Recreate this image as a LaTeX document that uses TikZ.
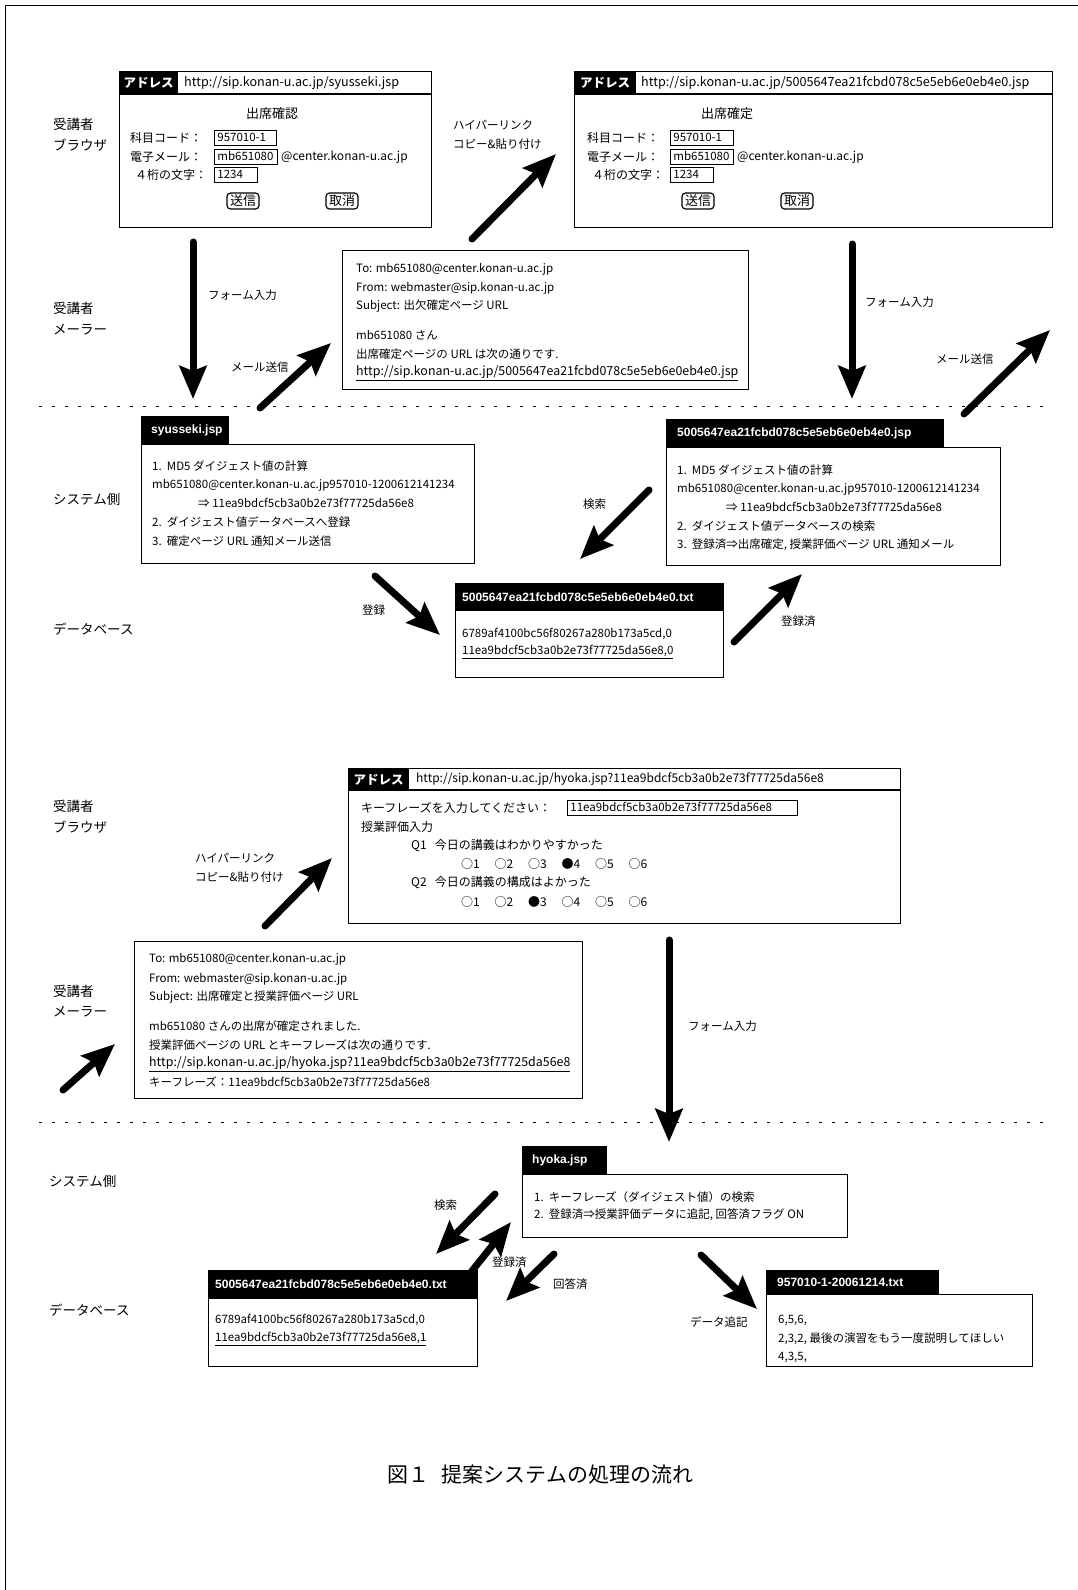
\documentclass[tikz,border=0pt]{standalone}
\usepackage{fontspec}
\setmainfont{Noto Sans CJK JP}
\newfontfamily\tabfont{Liberation Sans}
\usetikzlibrary{arrows.meta}
\tikzset{
  frame/.style={draw, line width=1.3pt, inner sep=0, anchor=north west},
  blk/.style={fill=black, draw=black, line width=1.3pt, inner sep=0, anchor=north west},
  side/.style={anchor=west, inner sep=0, font=\fontsize{13.5}{14}\selectfont},
  t/.style={anchor=west, inner sep=0, font=\fontsize{11.5}{12}\selectfont},
  url/.style={anchor=west, inner sep=0, font=\fontsize{12.4}{12}\selectfont},
  bt/.style={anchor=west, inner sep=0, font=\fontsize{12}{12}\selectfont},
  but/.style={anchor=west, inner sep=0, font=\fontsize{12.6}{12}\selectfont},
  ttl/.style={inner sep=0, font=\fontsize{13}{13}\selectfont},
  tabtxt/.style={anchor=west, inner sep=0, text=white, font=\tabfont\bfseries\fontsize{12}{12}\selectfont},
  adr/.style={anchor=center, inner sep=0, text=white, font=\bfseries\fontsize{12.5}{12}\selectfont},
  inbox/.style={draw, line width=0.8pt, anchor=west, inner xsep=3pt, inner ysep=1.5pt, text height=9.5pt, text depth=2.5pt, font=\fontsize{11.5}{12}\selectfont, align=left},
  btn/.style={draw, line width=1.2pt, rounded corners=3.5pt, inner xsep=3pt, inner ysep=2pt, font=\fontsize{13}{13}\selectfont},
  fat/.style={line width=7pt, line cap=round, -{Stealth[length=33pt,width=27pt,inset=5pt]}},
  sepline/.style={line width=1pt, dash pattern=on 3pt off 10pt},
}
\begin{document}
\begin{tikzpicture}[x=1pt,y=-1pt]
\useasboundingbox (0,0) rectangle (1078,1590);
\draw[line width=1pt] (5,1590) -- (5,5) -- (1078,5);

% ---------- side labels ----------
\node[side] (l1a) at (53,124) {受講者};
\node[side] (l1b) at (53,145) {ブラウザ};
\node[side] (l2a) at (53,308) {受講者};
\node[side] (l2b) at (53,330) {メーラー};
\node[side] (l3) at (53,499) {システム側};
\node[side] (l4) at (53,629) {データベース};
\node[side] (l5a) at (53,806) {受講者};
\node[side] (l5b) at (53,827) {ブラウザ};
\node[side] (l6a) at (53,991) {受講者};
\node[side] (l6b) at (53,1012) {メーラー};
\node[side] (l7) at (49,1181) {システム側};
\node[side] (l8) at (49,1310) {データベース};

% separators
\coordinate (s1a) at (39,406); \coordinate (s1b) at (1045,406);
\coordinate (s2a) at (39,1122); \coordinate (s2b) at (1045,1122);
\draw[sepline] (s1a) -- (s1b);
\draw[sepline] (s2a) -- (s2b);

% ---------- browser 1 ----------
\node[frame, minimum width=312, minimum height=156] (b1) at (119,71) {};
\draw[line width=1.3pt] (119,94) -- (431,94);
\node[blk, minimum width=58, minimum height=23] (b1a) at (119,71) {};
\node[adr] (b1at) at (b1a.center) {アドレス};
\node[but] (b1u) at (184,83) {http://sip.konan-u.ac.jp/syusseki.jsp};
\node[ttl] (b1t) at (272,114) {出席確認};
\node[bt] (b1r1) at (130,138) {科目コード：};
\node[bt] (b1r2) at (130,157) {電子メール：};
\node[bt] (b1r3) at (135,175) {４桁の文字：};
\node[inbox, text width=56] (b1i1) at (214,138) {957010-1};
\node[inbox, text width=57] (b1i2) at (214,157) {mb651080};
\node[bt] (b1d) at (281,157) {@center.konan-u.ac.jp};
\node[inbox, text width=37] (b1i3) at (214,175) {1234};
\node[btn] (b1s) at (243,201) {送信};
\node[btn] (b1c) at (342,201) {取消};

% ---------- browser 2 ----------
\node[frame, minimum width=478, minimum height=156] (b2) at (574,71) {};
\draw[line width=1.3pt] (574,94) -- (1052,94);
\node[blk, minimum width=61, minimum height=23] (b2a) at (574,71) {};
\node[adr] (b2at) at (b2a.center) {アドレス};
\node[but] (b2u) at (641,83) {http://sip.konan-u.ac.jp/5005647ea21fcbd078c5e5eb6e0eb4e0.jsp};
\node[ttl] (b2t) at (727,114) {出席確定};
\node[bt] (b2r1) at (587,138) {科目コード：};
\node[bt] (b2r2) at (587,157) {電子メール：};
\node[bt] (b2r3) at (592,175) {４桁の文字：};
\node[inbox, text width=57] (b2i1) at (670,138) {957010-1};
\node[inbox, text width=57] (b2i2) at (670,157) {mb651080};
\node[bt] (b2d) at (737,157) {@center.konan-u.ac.jp};
\node[inbox, text width=37] (b2i3) at (670,175) {1234};
\node[btn] (b2s) at (698,201) {送信};
\node[btn] (b2c) at (797,201) {取消};

% hyperlink label + arrow
\node[t] (hl1) at (453,125) {ハイパーリンク};
\node[t] (hl2) at (453,144) {コピー\&貼り付け};
\coordinate (h1s) at (472,239); \coordinate (h1e) at (556,154);
\draw[fat] (h1s) -- (h1e);

% form input arrow 1
\coordinate (f1s) at (193,242); \coordinate (f1e) at (193,399);
\draw[fat] (f1s) -- (f1e);
\node[t] (f1l) at (208,295) {フォーム入力};
% mail send 1
\coordinate (m1s) at (260,408); \coordinate (m1e) at (331,343);
\draw[fat] (m1s) -- (m1e);
\node[t] (m1l) at (231,367) {メール送信};

% ---------- mail 1 ----------
\node[frame, minimum width=406, minimum height=139] (mail1) at (342,250) {};
\node[t] (ma1) at (356,269) {To: mb651080@center.konan-u.ac.jp};
\node[t] (ma2) at (356,288) {From: webmaster@sip.konan-u.ac.jp};
\node[t] (ma3) at (356,306) {Subject: 出欠確定ページ URL};
\node[t] (ma4) at (356,335) {mb651080 さん};
\node[t] (ma5) at (356,354) {出席確定ページの URL は次の通りです.};
\node[url] (ma6) at (356,373) {\underline{http://sip.konan-u.ac.jp/5005647ea21fcbd078c5e5eb6e0eb4e0.jsp}};

% form input arrow 2
\coordinate (f2s) at (852,244); \coordinate (f2e) at (852,399);
\draw[fat] (f2s) -- (f2e);
\node[t] (f2l) at (865,302) {フォーム入力};
% mail send 2
\coordinate (m2s) at (964,414); \coordinate (m2e) at (1050,330);
\draw[fat] (m2s) -- (m2e);
\node[t] (m2l) at (936,359) {メール送信};

% ---------- syusseki.jsp ----------
\node[frame, minimum width=333, minimum height=119] (sy) at (141,444) {};
\node[blk, minimum width=87, minimum height=28] (syt) at (141,416) {};
\node[tabtxt] (sytt) at (151,430) {syusseki.jsp};
\node[t] (sy1) at (152,466) {1.\ \ MD5 ダイジェスト値の計算};
\node[t] (sy2) at (152,485) {mb651080@center.konan-u.ac.jp957010-1200612141234};
\node[t] (sy3) at (198,503) {⇒ 11ea9bdcf5cb3a0b2e73f77725da56e8};
\node[t] (sy4) at (152,522) {2.\ \ ダイジェスト値データベースへ登録};
\node[t] (sy5) at (152,541) {3.\ \ 確定ページ URL 通知メール送信};

% ---------- 5005...jsp ----------
\node[frame, minimum width=334, minimum height=118] (js) at (666,447) {};
\node[blk, minimum width=277, minimum height=28] (jst) at (666,419) {};
\node[tabtxt] (jstt) at (677,433) {5005647ea21fcbd078c5e5eb6e0eb4e0.jsp};
\node[t] (js1) at (677,470) {1.\ \ MD5 ダイジェスト値の計算};
\node[t] (js2) at (677,489) {mb651080@center.konan-u.ac.jp957010-1200612141234};
\node[t] (js3) at (726,507) {⇒ 11ea9bdcf5cb3a0b2e73f77725da56e8};
\node[t] (js4) at (677,526) {2.\ \ ダイジェスト値データベースの検索};
\node[t] (js5) at (677,545) {3.\ \ 登録済⇒出席確定, 授業評価ページ URL 通知メール};

% arrows around DB1
\coordinate (k1s) at (649,490); \coordinate (k1e) at (580,559);
\draw[fat] (k1s) -- (k1e);
\node[t] (k1l) at (583,504) {検索};
\coordinate (r1s) at (375,576); \coordinate (r1e) at (440,635);
\draw[fat] (r1s) -- (r1e);
\node[t] (r1l) at (362,610) {登録};
\coordinate (d1s) at (734,642); \coordinate (d1e) at (802,574);
\draw[fat] (d1s) -- (d1e);
\node[t] (d1l) at (781,621) {登録済};

% ---------- DB1 ----------
\node[frame, minimum width=268, minimum height=94] (db1) at (455,583) {};
\node[blk, minimum width=268, minimum height=27] (db1t) at (455,583) {};
\node[tabtxt] (db1tt) at (462,597) {5005647ea21fcbd078c5e5eb6e0eb4e0.txt};
\node[t] (db1a) at (462,634) {6789af4100bc56f80267a280b173a5cd,0};
\node[t] (db1b) at (462,652) {\underline{11ea9bdcf5cb3a0b2e73f77725da56e8,0}};

% ---------- browser 3 ----------
\node[frame, minimum width=552, minimum height=155] (b3) at (348,768) {};
\draw[line width=1.3pt] (348,790) -- (900,790);
\node[blk, minimum width=60, minimum height=22] (b3a) at (348,768) {};
\node[adr] (b3at) at (b3a.center) {アドレス};
\node[bt] (b3u) at (416,779) {http://sip.konan-u.ac.jp/hyoka.jsp?11ea9bdcf5cb3a0b2e73f77725da56e8};
\node[bt] (b3k) at (361,808) {キーフレーズを入力してください：};
\node[inbox, text width=224] (b3i) at (567,808) {11ea9bdcf5cb3a0b2e73f77725da56e8};
\node[bt] (b3h) at (361,827) {授業評価入力};
\node[bt] (b3q1) at (411,846) {Q1\ \ \ 今日の講義はわかりやすかった};
\node[bt] (b3q2) at (411,883) {Q2\ \ \ 今日の講義の構成はよかった};
\foreach \i/\s in {0/○,1/○,2/○,3/●,4/○,5/○}{
  \node[bt] (qa\i) at (461+33.5*\i,864) {\s\pgfmathparse{int(\i+1)}\pgfmathresult};
}
\foreach \i/\s in {0/○,1/○,2/●,3/○,4/○,5/○}{
  \node[bt] (qb\i) at (461+33.5*\i,902) {\s\pgfmathparse{int(\i+1)}\pgfmathresult};
}

% hyperlink 2
\node[t] (hl3) at (195,858) {ハイパーリンク};
\node[t] (hl4) at (195,877) {コピー\&貼り付け};
\coordinate (h2s) at (265,926); \coordinate (h2e) at (332,858);
\draw[fat] (h2s) -- (h2e);

% ---------- mail 2 ----------
\node[frame, minimum width=448, minimum height=157] (mail2) at (134,941) {};
\node[t] (mb1) at (149,959) {To: mb651080@center.konan-u.ac.jp};
\node[t] (mb2) at (149,979) {From: webmaster@sip.konan-u.ac.jp};
\node[t] (mb3) at (149,997) {Subject: 出席確定と授業評価ページ URL};
\node[t] (mb4) at (149,1026) {mb651080 さんの出席が確定されました.};
\node[t] (mb5) at (149,1045) {授業評価ページの URL とキーフレーズは次の通りです.};
\node[url] (mb6) at (149,1064) {\underline{http://sip.konan-u.ac.jp/hyoka.jsp?11ea9bdcf5cb3a0b2e73f77725da56e8}};
\node[t] (mb7) at (149,1082) {キーフレーズ：11ea9bdcf5cb3a0b2e73f77725da56e8};

\coordinate (ms3s) at (63,1090); \coordinate (ms3e) at (115,1044);
\draw[fat] (ms3s) -- (ms3e);

% form input 3
\coordinate (f3s) at (669,940); \coordinate (f3e) at (669,1142);
\draw[fat] (f3s) -- (f3e);
\node[t] (f3l) at (688,1026) {フォーム入力};

% ---------- hyoka.jsp ----------
\node[frame, minimum width=325, minimum height=63] (hy) at (522,1174) {};
\node[blk, minimum width=84, minimum height=28] (hyt) at (522,1146) {};
\node[tabtxt] (hytt) at (532,1160) {hyoka.jsp};
\node[t] (hy1) at (534,1197) {1.\ \ キーフレーズ（ダイジェスト値）の検索};
\node[t] (hy2) at (534,1215) {2.\ \ 登録済⇒授業評価データに追記, 回答済フラグ ON};

% arrows around DB2
\coordinate (k2s) at (495,1194); \coordinate (k2e) at (436,1254);
\draw[fat] (k2s) -- (k2e);
\node[t] (k2l) at (434,1205) {検索};
\coordinate (d2s) at (464,1281); \coordinate (d2e) at (511,1222);
\draw[fat] (d2s) -- (d2e);
\node[t] (d2l) at (492,1262) {登録済};
\coordinate (a2s) at (554,1254); \coordinate (a2e) at (506,1301);
\draw[fat] (a2s) -- (a2e);
\node[t] (a2l) at (553,1284) {回答済};
\coordinate (w2s) at (701,1255); \coordinate (w2e) at (757,1309);
\draw[fat] (w2s) -- (w2e);
\node[t] (w2l) at (690,1322) {データ追記};

% ---------- DB2 ----------
\node[frame, minimum width=269, minimum height=96] (db2) at (208,1270) {};
\node[blk, minimum width=269, minimum height=28] (db2t) at (208,1270) {};
\node[tabtxt] (db2tt) at (215,1284) {5005647ea21fcbd078c5e5eb6e0eb4e0.txt};
\node[t] (db2a) at (215,1320) {6789af4100bc56f80267a280b173a5cd,0};
\node[t] (db2b) at (215,1339) {\underline{11ea9bdcf5cb3a0b2e73f77725da56e8,1}};

% ---------- 957010 box ----------
\node[frame, minimum width=266, minimum height=72] (ev) at (766,1294) {};
\node[blk, minimum width=172, minimum height=24] (evt) at (766,1270) {};
\node[tabtxt] (evtt) at (777,1282) {957010-1-20061214.txt};
\node[t] (ev1) at (778,1320) {6,5,6,};
\node[t] (ev2) at (778,1339) {2,3,2, 最後の演習をもう一度説明してほしい};
\node[t] (ev3) at (778,1357) {4,3,5,};

% caption
\node[inner sep=0, font=\fontsize{21}{22}\selectfont] (cap) at (540,1475) {図１\hspace{0.6em}提案システムの処理の流れ};
\end{tikzpicture}
\end{document}
